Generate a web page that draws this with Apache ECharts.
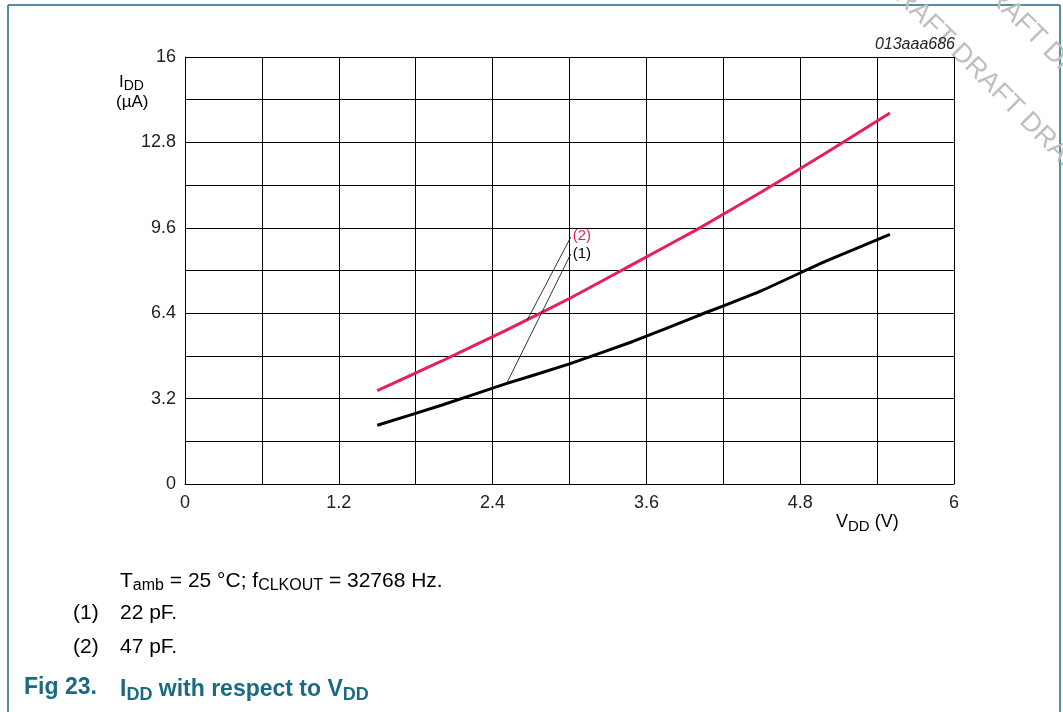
<!DOCTYPE html>
<html>
<head>
<meta charset="utf-8">
<script src="https://cdn.jsdelivr.net/npm/echarts@6/dist/echarts.min.js"></script>
<style>
  html, body { margin: 0; padding: 0; background: #fff; }
  #chart { width: 1063px; height: 712px; }
</style>
</head>
<body>
<div id="chart"></div>
<script>
// supply voltage (V)
var vdd = [1.5, 2.0, 2.5, 3.0, 3.5, 4.0, 4.5, 5.0, 5.5];
// (1) 22 pF
var idd22 = [2.2, 2.95, 3.75, 4.5, 5.35, 6.3, 7.25, 8.35, 9.35];
// (2) 47 pF
var idd47 = [3.5, 4.6, 5.75, 6.95, 8.25, 9.55, 10.95, 12.4, 13.9];

var xTicks = ['0', '1.2', '2.4', '3.6', '4.8', '6'];
var yTicks = ['0', '3.2', '6.4', '9.6', '12.8', '16'];

var FONT = '"Liberation Sans", Arial, sans-serif';
var TEAL = '#1b6a80';
var RED = '#e91e5a';

function pairs(xs, ys) {
    return xs.map(function (x, i) { return [x, ys[i]]; });
}

function tickFmt(list) {
    return function (v) {
        var s = String(+v.toFixed(1));
        return list.indexOf(s) >= 0 ? s : '';
    };
}

// rich text with subscripts (zrender style -> fill)
function subRich(size, subSize, weight, color) {
    return {
        n: { fontFamily: FONT, fontSize: size, fontWeight: weight, fill: color },
        s: { fontFamily: FONT, fontSize: subSize, fontWeight: weight, fill: color, padding: [Math.round(size * 0.45), 0, 0, 0] }
    };
}

var chart = echarts.init(document.getElementById('chart'));

var option = {
    animation: false,
    backgroundColor: '#fff',
    grid: { left: 185, top: 57, width: 769, height: 427, containLabel: false },
    xAxis: {
        type: 'value',
        min: 0,
        max: 6,
        interval: 0.6,
        axisLine: { show: true, lineStyle: { color: '#000', width: 1 } },
        axisTick: { show: false },
        axisLabel: {
            formatter: tickFmt(xTicks),
            fontFamily: FONT, fontSize: 18, color: '#222', margin: 10
        },
        splitLine: { show: true, lineStyle: { color: '#000', width: 1 } }
    },
    yAxis: {
        type: 'value',
        min: 0,
        max: 16,
        interval: 1.6,
        axisLine: { show: true, lineStyle: { color: '#000', width: 1 } },
        axisTick: { show: false },
        axisLabel: {
            formatter: tickFmt(yTicks),
            fontFamily: FONT, fontSize: 18, color: '#222', margin: 9
        },
        splitLine: { show: true, lineStyle: { color: '#000', width: 1 } }
    },
    series: [
        {
            name: '22 pF',
            type: 'line',
            data: pairs(vdd, idd22),
            showSymbol: false,
            smooth: 0.15,
            lineStyle: { color: '#000', width: 3 },
            z: 3,
            markLine: {
                silent: true,
                symbol: 'none',
                label: { show: false },
                lineStyle: { color: '#000', width: 0.8, type: 'solid' },
                data: [[{ coord: [3.01, 8.62] }, { coord: [2.51, 3.77] }]]
            },
            markPoint: {
                symbol: 'circle',
                symbolSize: 0,
                data: [{
                    coord: [3.01, 8.62],
                    label: {
                        show: true, position: 'right', distance: 2,
                        formatter: '(1)', fontFamily: FONT, fontSize: 15, color: '#000'
                    }
                }]
            }
        },
        {
            name: '47 pF',
            type: 'line',
            data: pairs(vdd, idd47),
            showSymbol: false,
            smooth: 0.15,
            lineStyle: { color: RED, width: 3 },
            z: 3,
            markLine: {
                silent: true,
                symbol: 'none',
                label: { show: false },
                lineStyle: { color: '#000', width: 0.8, type: 'solid' },
                data: [[{ coord: [3.01, 9.25] }, { coord: [2.67, 6.14] }]]
            },
            markPoint: {
                symbol: 'circle',
                symbolSize: 0,
                data: [{
                    coord: [3.01, 9.3],
                    label: {
                        show: true, position: 'right', distance: 2,
                        formatter: '(2)', fontFamily: FONT, fontSize: 15, color: RED
                    }
                }]
            }
        }
    ],
    graphic: [
        // frame
        { type: 'line', shape: { x1: 8, y1: 5, x2: 1060, y2: 5 }, style: { stroke: TEAL, lineWidth: 1.5 } },
        { type: 'line', shape: { x1: 8, y1: 5, x2: 8, y2: 712 }, style: { stroke: TEAL, lineWidth: 1.5 } },
        { type: 'line', shape: { x1: 1060, y1: 5, x2: 1060, y2: 712 }, style: { stroke: TEAL, lineWidth: 1.5 } },
        // watermark
        {
            type: 'text', x: 886, y: -21, rotation: -Math.PI / 4, z: 0,
            style: { text: 'DRAFT DRAFT DRAFT', fontFamily: FONT, fontSize: 27, fill: '#bfbfbf', verticalAlign: 'middle' }
        },
        {
            type: 'text', x: 978, y: -22, rotation: -Math.PI / 4, z: 0,
            style: { text: 'DRAFT DRAFT DRAFT', fontFamily: FONT, fontSize: 27, fill: '#bfbfbf', verticalAlign: 'middle' }
        },
        // figure id
        {
            type: 'text', x: 955, y: 45,
            style: { text: '013aaa686', fontFamily: FONT, fontSize: 16, fontStyle: 'italic', fill: '#222', align: 'right', verticalAlign: 'middle' }
        },
        // y axis name
        {
            type: 'text', x: 119, y: 71,
            style: { text: '{n|I}{s|DD}', rich: subRich(17, 14, 'normal', '#000') }
        },
        {
            type: 'text', x: 116, y: 94,
            style: { text: '(µA)', fontFamily: FONT, fontSize: 17, fill: '#000' }
        },
        // x axis name
        {
            type: 'text', x: 836, y: 511,
            style: { text: '{n|V}{s|DD}{n| (V)}', rich: subRich(18, 15, 'normal', '#000') }
        },
        // notes
        {
            type: 'text', x: 120, y: 569,
            style: { text: '{n|T}{s|amb}{n| = 25 °C; f}{s|CLKOUT}{n| = 32768 Hz.}', rich: subRich(21, 16, 'normal', '#000') }
        },
        { type: 'text', x: 73, y: 603, style: { text: '(1)', fontFamily: FONT, fontSize: 21, fill: '#000' } },
        { type: 'text', x: 120, y: 603, style: { text: '22 pF.', fontFamily: FONT, fontSize: 21, fill: '#000' } },
        { type: 'text', x: 73, y: 637, style: { text: '(2)', fontFamily: FONT, fontSize: 21, fill: '#000' } },
        { type: 'text', x: 120, y: 637, style: { text: '47 pF.', fontFamily: FONT, fontSize: 21, fill: '#000' } },
        // caption
        { type: 'text', x: 24, y: 676, style: { text: 'Fig 23.', fontFamily: FONT, fontSize: 23, fontWeight: 'bold', fill: TEAL } },
        {
            type: 'text', x: 120, y: 676,
            style: { text: '{n|I}{s|DD}{n| with respect to V}{s|DD}', rich: subRich(23, 18, 'bold', TEAL) }
        }
    ]
};

chart.setOption(option);
</script>
</body>
</html>
